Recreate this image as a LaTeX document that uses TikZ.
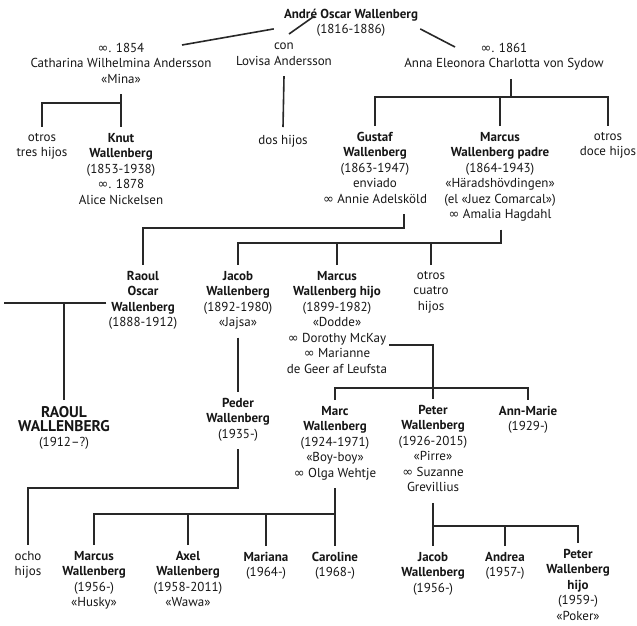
\documentclass[tikz,border=0pt]{standalone}
\usepackage{fontspec}
\setmainfont{PT Sans}
\newfontfamily\symfont{DejaVu Sans}
\usetikzlibrary{calc}

\newcommand{\marr}{{\symfont ∞}}

\begin{document}
\begin{tikzpicture}[x=1pt, y=-1pt,
    person/.style={align=center, anchor=north, inner xsep=2pt, inner ysep=6pt, text=inkcolor, font=\fontsize{13}{15.5}\selectfont, execute at begin node=\strut},
    big/.style={person, font=\fontsize{15.5}{14.5}\selectfont},
    line/.style={draw=linecolor, line width=1.6pt}
]

% Colors
\definecolor{inkcolor}{RGB}{22,22,22}
\definecolor{linecolor}{RGB}{40,40,40}

\useasboundingbox (0,0) rectangle (637,625);

% Top - André and his wives
\node[person] (andre) at (351,1) {\textbf{André Oscar Wallenberg}};
\node[person] (andreyr) at (351,16) {(1816-1886)};

\node[person] (mina) at (121,37) {\marr. 1854\\Catharina Wilhelmina Andersson\\«Mina»};
\node[person] (lovisa) at (284,37) {con\\Lovisa Andersson};
\node[person] (anna) at (504,37) {\marr. 1861\\Anna Eleonora Charlotta von Sydow};

% Second generation
\node[person] (otros3) at (42,127) {otros\\tres hijos};
\node[person] (knut) at (121,127) {\textbf{Knut}\\\textbf{Wallenberg}\\(1853-1938)\\\marr. 1878\\Alice Nickelsen};
\node[person] (doshijos) at (283,127) {dos hijos};
\node[person] (gustaf) at (375,126) {\textbf{Gustaf}\\\textbf{Wallenberg}\\(1863-1947)\\enviado\\\marr{} Annie Adelsköld};
\node[person] (marcusp) at (500,126) {\textbf{Marcus}\\\textbf{Wallenberg padre}\\(1864-1943)\\«Häradshövdingen»\\(el «Juez Comarcal»)\\\marr{} Amalia Hagdahl};
\node[person] (otros12) at (608,126) {otros\\doce hijos};

% Third generation
\node[person] (raoulo) at (143,265) {\textbf{Raoul}\\\textbf{Oscar}\\\textbf{Wallenberg}\\(1888-1912)};
\node[person] (jacob) at (238,265) {\textbf{Jacob}\\\textbf{Wallenberg}\\(1892-1980)\\«Jajsa»};
\node[person] (marcush) at (337,265) {\textbf{Marcus}\\\textbf{Wallenberg hijo}\\(1899-1982)\\«Dodde»\\\marr{} Dorothy McKay\\\marr{} Marianne\\de Geer af Leufsta};
\node[person] (otros4) at (431,265) {otros\\cuatro\\hijos};

% Fourth generation
\node[big] (raoul) at (64,400) {\textbf{RAOUL}\\\textbf{WALLENBERG}\\{\fontsize{13}{16}\selectfont (1912–?)}};
\node[person] (peder) at (238,392) {\textbf{Peder}\\\textbf{Wallenberg}\\(1935-)};
\node[person] (marc) at (335,400) {\textbf{Marc}\\\textbf{Wallenberg}\\(1924-1971)\\«Boy-boy»\\\marr{} Olga Wehtje};
\node[person] (peter) at (433,399) {\textbf{Peter}\\\textbf{Wallenberg}\\(1926-2015)\\«Pirre»\\\marr{} Suzanne\\Grevillius};
\node[person] (annm) at (528,400) {\textbf{Ann-Marie}\\(1929-)};

% Fifth generation
\node[person] (ocho) at (28,545) {ocho\\hijos};
\node[person] (marcus2) at (94,545) {\textbf{Marcus}\\\textbf{Wallenberg}\\(1956-)\\«Husky»};
\node[person] (axel) at (188,545) {\textbf{Axel}\\\textbf{Wallenberg}\\(1958-2011)\\«Wawa»};
\node[person] (mariana) at (266,546) {\textbf{Mariana}\\(1964-)};
\node[person] (caroline) at (335,546) {\textbf{Caroline}\\(1968-)};
\node[person] (jacob2) at (433,546) {\textbf{Jacob}\\\textbf{Wallenberg}\\(1956-)};
\node[person] (andrea) at (505,546) {\textbf{Andrea}\\(1957-)};
\node[person] (peterh) at (578,543) {\textbf{Peter}\\\textbf{Wallenberg}\\\textbf{hijo}\\(1959-)\\«Poker»};

% Junctions
\coordinate (jmina) at (121,103);
\coordinate (janna) at (511,97);
\coordinate (jgus) at (404,228);
\coordinate (jmpad) at (501,243);
\coordinate (rleft) at (4,303);
\coordinate (jmhijo) at (433,345);
\coordinate (jmhkids) at (433,388);
\coordinate (jpeder) at (238,488);
\coordinate (jmarc) at (335,514);
\coordinate (jpeter) at (433,526);

% Connections
\draw[line] ([xshift=-8pt]andre.south west) -- ($(mina.north)+(61,8)$);
\draw[line] (andreyr.north west) -- ($(lovisa.north)+(5,-3)$);
\draw[line] (andre.south east) -- ($(anna.north)+(-49,10)$);

\draw[line] (mina.south) -- (knut.north);
\draw[line] (jmina) -| (otros3.north);
\draw[line] (lovisa.south) -- (doshijos.north);

\draw[line] (anna.south -| janna) -- (janna);
\draw[line] (gustaf.north) |- (janna) -| (otros12.north);
\draw[line] (marcusp.north) -- (marcusp.north |- janna);

\draw[line] (gustaf.south -| jgus) -- (jgus) -| (raoulo.north);
\draw[line] (marcusp.south -| jmpad) -- (jmpad) -| (jacob.north);
\draw[line] (marcush.north) -- (marcush.north |- jmpad);
\draw[line] (otros4.north) -- (otros4.north |- jmpad);

\draw[line] (raoulo.west |- rleft) -- (rleft);
\draw[line] (raoul.north) -- (raoul.north |- rleft);

\draw[line] (jacob.south) -- (peder.north);
\draw[line] (peder.south) |- (jpeder) -| (ocho.north);

\draw[line] (marcush.east |- jmhijo) -- (jmhijo) -- (peter.north);
\draw[line] (marc.north) |- (jmhkids) -| (annm.north);

\draw[line] (marc.south) -- (caroline.north);
\draw[line] (marcus2.north) |- (jmarc);
\draw[line] (axel.north) -- (axel.north |- jmarc);
\draw[line] (mariana.north) -- (mariana.north |- jmarc);

\draw[line] (peter.south) -- (jacob2.north);
\draw[line] (jpeter) -| (peterh.north);
\draw[line] (andrea.north) -- (andrea.north |- jpeter);

\end{tikzpicture}
\end{document}
